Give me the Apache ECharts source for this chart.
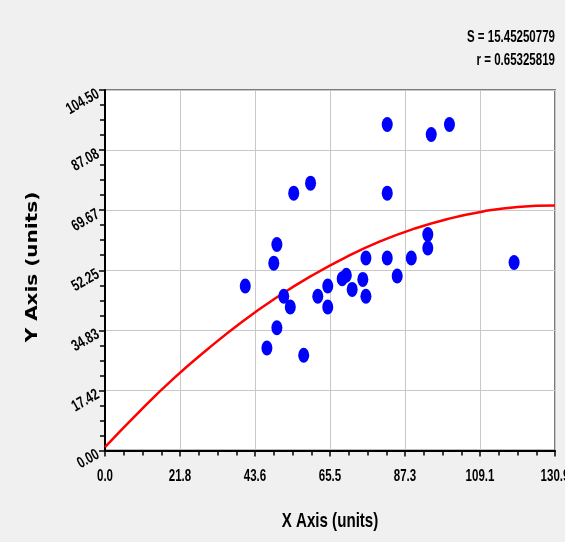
<!DOCTYPE html>
<html>
<head>
<meta charset="utf-8">
<script src="https://cdn.jsdelivr.net/npm/echarts@6/dist/echarts.min.js"></script>
<style>
  html, body { margin: 0; padding: 0; background: #F0F0F0; }
  #chart { width: 565px; height: 542px; }
</style>
</head>
<body>
<div id="chart"></div>
<script>
// Observed samples
const xValues = [82.1, 94.9, 100.2, 54.9, 59.8, 82.1, 50.0, 49.1, 40.8, 52.0,
                 53.9, 50.0, 47.1, 57.8, 61.9, 64.8, 64.8, 69.0, 70.2, 71.9,
                 75.0, 75.9, 75.9, 82.1, 85.0, 89.1, 93.9, 93.9, 119.0];
const yValues = [94.5, 91.6, 94.5, 74.6, 77.5, 74.6, 59.7, 54.3, 47.7, 44.7,
                 41.6, 35.6, 29.7, 27.6, 44.7, 47.7, 41.6, 49.8, 50.8, 46.7,
                 49.6, 55.8, 44.7, 55.8, 50.6, 55.8, 62.6, 58.7, 54.5];

// Fitted curve, sampled along x
const fitX = [0, 10, 20, 30, 40, 50, 60, 70, 80, 90, 100, 110, 120, 130.9];
const fitY = [1.0, 11.3, 20.9, 29.5, 37.4, 44.4, 50.6, 56.0, 60.6, 64.3, 67.2, 69.3, 70.6, 71.0];

// Axis tick labels
const xTickLabels = ['0.0', '21.8', '43.6', '65.5', '87.3', '109.1', '130.9'];
const yTickLabels = ['0.00', '17.42', '34.83', '52.25', '69.67', '87.08', '104.50'];

// Fit statistics
const statS = 'S = 15.45250779';
const statR = 'r = 0.65325819';

const xMax = 130.9, yMax = 104.5;
const xStep = xMax / 6, yStep = yMax / 6;

// Condensed bold face: Liberation Sans Bold squeezed horizontally
const baseFont = "'Liberation Sans', Arial, sans-serif";
const squeeze = 0.72;

const chart = echarts.init(document.getElementById('chart'), null, { renderer: 'canvas' });

const axisCommon = {
  axisLine: { show: true, lineStyle: { color: '#000', width: 2 } },
  axisTick: { show: true, inside: false, length: 6, lineStyle: { color: '#000', width: 1.5 } },
  minorTick: { show: true, splitNumber: 4, length: 5, lineStyle: { color: '#000', width: 1.5 } },
  splitLine: { show: true, lineStyle: { color: '#c8c8c8', width: 1 } },
  minorSplitLine: { show: false },
  axisLabel: { show: false }
};

chart.setOption({
  backgroundColor: '#F0F0F0',
  animation: false,
  grid: {
    left: 105, top: 90, right: 10, bottom: 91.5,
    containLabel: false, outerBoundsMode: 'none',
    show: true, backgroundColor: '#ffffff', borderColor: '#7a7a7a', borderWidth: 2
  },
  xAxis: Object.assign({ type: 'value', min: 0, max: xMax, interval: xStep }, axisCommon),
  yAxis: Object.assign({ type: 'value', min: 0, max: yMax, interval: yStep }, axisCommon),
  series: [
    {
      type: 'line',
      data: fitX.map((x, i) => [x, fitY[i]]),
      smooth: true,
      showSymbol: false,
      clip: true,
      lineStyle: { color: '#ff0000', width: 2.5 },
      z: 2
    },
    {
      type: 'scatter',
      data: xValues.map((x, i) => [x, yValues[i]]),
      symbol: 'path://M0,-1A1,1,0,1,1,0,1A1,1,0,1,1,0,-1Z',
      symbolSize: [11, 15],
      itemStyle: { color: '#0000ff', opacity: 1 },
      z: 3
    }
  ]
});

// Text layer: tick labels placed through the axis scales, titles and statistics
function squeezedText(x, y, text, size, align, vAlign, rotation) {
  return {
    type: 'text', x: x, y: y, scaleX: squeeze, rotation: rotation || 0,
    style: { text: text, fill: '#000', font: 'bold ' + size + 'px ' + baseFont,
             textAlign: align, textVerticalAlign: vAlign }
  };
}

const texts = [];
xTickLabels.forEach((lab, i) => {
  const p = chart.convertToPixel({ xAxisIndex: 0 }, i * xStep);
  texts.push(squeezedText(p, 477, lab, 16, 'center', 'middle'));
});
yTickLabels.forEach((lab, i) => {
  const p = chart.convertToPixel({ yAxisIndex: 0 }, i * yStep);
  texts.push(squeezedText(98, p + 3, lab, 16, 'right', 'middle', Math.PI / 6));
});
texts.push(squeezedText(555, 38, statS, 16, 'right', 'middle'));
texts.push(squeezedText(555, 61, statR, 16, 'right', 'middle'));
texts.push(squeezedText(330, 521, 'X Axis (units)', 21, 'center', 'middle'));
texts.push({
  type: 'text', x: 33, y: 267, rotation: Math.PI / 2, scaleX: 1.25,
  style: { text: 'Y Axis (units)', fill: '#000', font: "bold 16px 'DejaVu Sans', sans-serif",
           textAlign: 'center', textVerticalAlign: 'middle' }
});

chart.setOption({ graphic: texts });
</script>
</body>
</html>
